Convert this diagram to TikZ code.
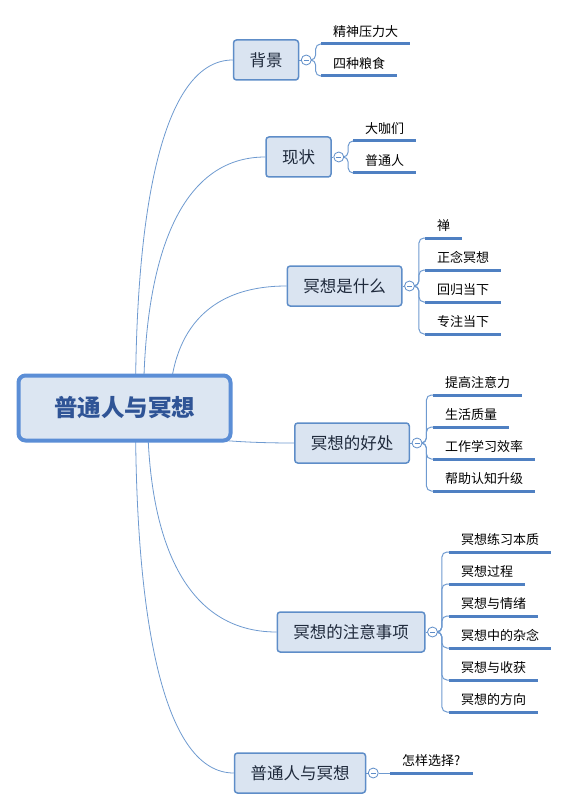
\documentclass[tikz,border=0pt]{standalone}
\usepackage{fontspec}
\setmainfont{Noto Sans CJK SC}
\usetikzlibrary{calc,backgrounds}
\definecolor{rootline}{HTML}{5B8ED6}
\definecolor{rootfill}{HTML}{DCE6F2}
\definecolor{roottext}{HTML}{2F5496}
\definecolor{boxline}{HTML}{5E8DC8}
\definecolor{boxfill}{HTML}{DAE4F1}
\definecolor{boxtext}{HTML}{1F2A3C}
\definecolor{ulinec}{HTML}{4F80C2}
\definecolor{connc}{HTML}{6E9AD0}
\tikzset{
  rootbox/.style={draw=rootline, fill=rootfill, line width=4pt, rounded corners=7pt,
    minimum width=212pt, minimum height=65pt, text=roottext,
    font=\fontsize{23.5}{26}\selectfont\bfseries},
  branch/.style={draw=boxline, fill=boxfill, line width=1.5pt, rounded corners=3pt,
    inner xsep=16pt, minimum height=40pt, text=boxtext,
    font=\fontsize{16.5}{18}\selectfont},
  collapse/.style={circle, draw=boxline, fill=white, line width=0.8pt, minimum size=10pt, inner sep=0pt,
    path picture={\draw[boxline, line width=0.8pt] ([xshift=2.5pt]path picture bounding box.west) -- ([xshift=-2.5pt]path picture bounding box.east);}},
  uline/.style={draw=ulinec, line width=3pt},
  leaf/.style={anchor=south west, inner xsep=12pt, inner ysep=6pt, text=black,
    font=\fontsize{13}{14}\selectfont,
    append after command={(\tikzlastnode.south west) edge[uline] (\tikzlastnode.south east)}},
  conn/.style={draw=connc, line width=0.8pt},
  sub/.style={draw=connc, line width=1pt, rounded corners=5pt},
}
\begin{document}
\begin{tikzpicture}[x=1pt,y=-1pt]
\useasboundingbox (0,0) rectangle (568,810);
% root
\node[rootbox] (root) at (124.5,408) {普通人与冥想};
% branches
\node[branch] (b1) at (266,60) {背景};
\node[branch] (b2) at (298.5,157) {现状};
\node[branch] (b3) at (344.5,286) {冥想是什么};
\node[branch] (b4) at (352,443) {冥想的好处};
\node[branch] (b5) at (351,632) {冥想的注意事项};
\node[branch] (b6) at (300,773) {普通人与冥想};
% collapse circles
\node[collapse] (c1) at ($(b1.east)+(7,0)$) {};
\node[collapse] (c2) at ($(b2.east)+(7,0)$) {};
\node[collapse] (c3) at ($(b3.east)+(7,0)$) {};
\node[collapse] (c4) at ($(b4.east)+(7,0)$) {};
\node[collapse] (c5) at ($(b5.east)+(7,0)$) {};
\node[collapse] (c6) at ($(b6.east)+(7,0)$) {};
% leaves
\node[leaf] (l11) at (321,44) {精神压力大};
\node[leaf] (l12) at (321,76) {四种粮食};
\node[leaf] (l21) at (353,141) {大咖们};
\node[leaf] (l22) at (353,173) {普通人};
\node[leaf] (l31) at (425,238) {禅};
\node[leaf] (l32) at (425,270) {正念冥想};
\node[leaf] (l33) at (425,302) {回归当下};
\node[leaf] (l34) at (425,334) {专注当下};
\node[leaf] (l41) at (433,395) {提高注意力};
\node[leaf] (l42) at (433,427) {生活质量};
\node[leaf] (l43) at (433,459) {工作学习效率};
\node[leaf] (l44) at (433,491) {帮助认知升级};
\node[leaf] (l51) at (449,552) {冥想练习本质};
\node[leaf] (l52) at (449,584) {冥想过程};
\node[leaf] (l53) at (449,616) {冥想与情绪};
\node[leaf] (l54) at (449,648) {冥想中的杂念};
\node[leaf] (l55) at (449,680) {冥想与收获};
\node[leaf] (l56) at (449,712) {冥想的方向};
\node[leaf] (l61) at (390,773) {怎样选择?};
\begin{pgfonlayer}{background}
% root connectors
\draw[conn] ($(root.center)+(11,0)$) .. controls (135,199) and (165,60) .. (b1.west);
\draw[conn] ($(root.center)+(19,0)$) .. controls (143,257) and (180,157) .. (b2.west);
\draw[conn] ($(root.center)+(45,0)$) .. controls (170,335) and (205,286) .. (b3.west);
\draw[conn] ($(root.center)+(16,0)$) .. controls (140,429) and (186,443) .. (b4.west);
\draw[conn] ($(root.center)+(23,0)$) .. controls (147,542) and (186,632) .. (b5.west);
\draw[conn] ($(root.center)+(11,0)$) .. controls (135,627) and (165,773) .. (b6.west);
% box to circle
\foreach \i in {1,...,6} \draw[conn] (b\i.east) -- (c\i.west);
% sub connectors
\draw[sub] (c1.east) -- ++(4,0) |- (l11.south west);
\draw[sub] (c1.east) -- ++(4,0) |- (l12.south west);
\draw[sub] (c2.east) -- ++(4,0) |- (l21.south west);
\draw[sub] (c2.east) -- ++(4,0) |- (l22.south west);
\draw[sub] (c3.east) -- ++(4,0) |- (l31.south west);
\draw[sub] (c3.east) -- ++(4,0) |- (l32.south west);
\draw[sub] (c3.east) -- ++(4,0) |- (l33.south west);
\draw[sub] (c3.east) -- ++(4,0) |- (l34.south west);
\draw[sub] (c4.east) -- ++(4,0) |- (l41.south west);
\draw[sub] (c4.east) -- ++(4,0) |- (l42.south west);
\draw[sub] (c4.east) -- ++(4,0) |- (l43.south west);
\draw[sub] (c4.east) -- ++(4,0) |- (l44.south west);
\draw[sub] (c5.east) -- ++(4,0) |- (l51.south west);
\draw[sub] (c5.east) -- ++(4,0) |- (l52.south west);
\draw[sub] (c5.east) -- ++(4,0) |- (l53.south west);
\draw[sub] (c5.east) -- ++(4,0) |- (l54.south west);
\draw[sub] (c5.east) -- ++(4,0) |- (l55.south west);
\draw[sub] (c5.east) -- ++(4,0) |- (l56.south west);
\draw[sub] (c6.east) -- (l61.south west);
\end{pgfonlayer}
\end{tikzpicture}
\end{document}
